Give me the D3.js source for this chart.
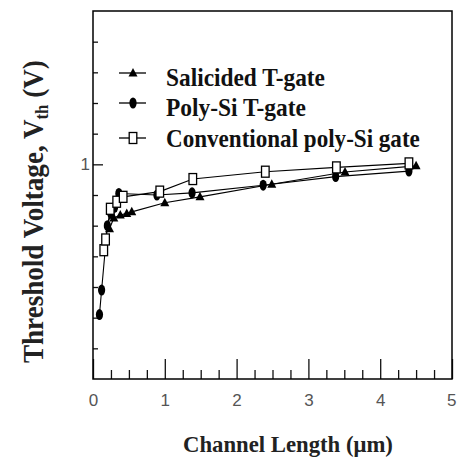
<!DOCTYPE html>
<html>
<head>
<meta charset="utf-8">
<script src="https://cdn.jsdelivr.net/npm/d3@7"></script>
<style>
  body { margin: 0; background: #fff; }
  svg { display: block; }
</style>
</head>
<body>
<div id="chart"></div>
<script>
// Data: channel length (um) and threshold voltage (V)
var salicidedL   = [0.23, 0.29, 0.38, 0.47, 0.54, 1.0, 1.49, 2.49, 3.51, 4.5];
var salicidedVth = [0.79, 0.825, 0.835, 0.84, 0.845, 0.875, 0.894, 0.935, 0.975, 0.995];

var polyL   = [0.09, 0.12, 0.2, 0.25, 0.3, 0.36, 0.89, 1.38, 2.37, 3.38, 4.4];
var polyVth = [0.51, 0.59, 0.8, 0.84, 0.86, 0.905, 0.9, 0.907, 0.932, 0.96, 0.978];

var convL   = [0.15, 0.175, 0.24, 0.33, 0.42, 0.93, 1.39, 2.4, 3.39, 4.4];
var convVth = [0.72, 0.755, 0.855, 0.878, 0.894, 0.911, 0.952, 0.976, 0.99, 1.003];

var seriesNames = ["Salicided T-gate", "Poly-Si T-gate", "Conventional poly-Si gate"];
var xTicks = [0, 1, 2, 3, 4, 5];
var yTicks = [1];

// Set the dimensions and margins
var margin = { top: 11, right: 5, bottom: 79, left: 93 };
var w = 457, h = 458;
var width = w - margin.left - margin.right;
var height = h - margin.top - margin.bottom;

var svg = d3.select("#chart")
  .append("svg")
    .attr("width", w)
    .attr("height", h);

var g = svg.append("g")
  .attr("transform", "translate(" + margin.left + "," + margin.top + ")");

// Scales
var xScale = d3.scaleLinear().domain([0, 5]).range([0, width]);
var yScale = d3.scaleLinear().domain([0.3, 1.5]).range([height, 0]);

// factor to stretch or squeeze a text element to a given width
function fitText(sel, target) {
  var len = sel.node().getComputedTextLength();
  return target / len;
}

/* ---------------- axes (ticks pointing inward) ---------------- */
var xMajor = d3.axisBottom(xScale).tickValues(xTicks).tickSize(-20).tickSizeOuter(0).tickPadding(15)
  .tickFormat(d3.format("d"));
var xMinor = d3.axisBottom(xScale)
  .tickValues(d3.range(0.25, 5, 0.25).filter(function(d) { return Math.abs(d - Math.round(d)) > 0.01; }))
  .tickSize(-9).tickSizeOuter(0).tickFormat("");
var yMajor = d3.axisLeft(yScale).tickValues(yTicks).tickSize(-10).tickSizeOuter(0).tickPadding(3)
  .tickFormat(d3.format("d"));
var yMinor = d3.axisLeft(yScale)
  .tickValues([0.4, 0.5, 0.6, 0.7, 0.8, 0.9, 1.1, 1.2, 1.3, 1.4])
  .tickSize(-5).tickSizeOuter(0).tickFormat("");

[
  g.append("g").attr("class", "x-major").attr("transform", "translate(0," + height + ")").call(xMajor),
  g.append("g").attr("transform", "translate(0," + height + ")").call(xMinor),
  g.append("g").call(yMajor),
  g.append("g").call(yMinor)
].forEach(function(ax) {
  ax.select(".domain").remove();
  ax.selectAll("line").attr("stroke", "#111").attr("stroke-width", 1.3);
  ax.selectAll("text")
    .attr("font-family", "'Liberation Sans', Arial, sans-serif")
    .attr("font-size", 17)
    .attr("fill", "#555");
});
// the last label sits on the picture's right edge: nudge it in
g.select(".x-major").selectAll("text")
  .filter(function(d) { return d === 5; })
  .attr("text-anchor", "end")
  .attr("x", 4);

// frame
g.append("rect")
  .attr("x", 0).attr("y", 0)
  .attr("width", width).attr("height", height)
  .attr("fill", "none")
  .attr("stroke", "#000")
  .attr("stroke-width", 1.5);

/* ---------------- series ---------------- */
function zip(xs, ys) {
  return xs.map(function(x, i) { return { x: x, y: ys[i] }; });
}
var series = [
  { name: seriesNames[0], marker: "triangle", data: zip(salicidedL, salicidedVth) },
  { name: seriesNames[1], marker: "circle", data: zip(polyL, polyVth) },
  { name: seriesNames[2], marker: "square", data: zip(convL, convVth) }
];

var line = d3.line()
  .x(function(d) { return xScale(d.x); })
  .y(function(d) { return yScale(d.y); });

function drawMarker(sel, type) {
  if (type === "triangle") {
    sel.append("path")
      .attr("d", "M0,-5L4.5,3.5L-4.5,3.5Z")
      .attr("fill", "#000");
  } else if (type === "circle") {
    sel.append("ellipse")
      .attr("rx", 3.6).attr("ry", 5.5)
      .attr("fill", "#000");
  } else {
    sel.append("rect")
      .attr("x", -3.8).attr("y", -5.5)
      .attr("width", 7.6).attr("height", 11)
      .attr("fill", "#fff")
      .attr("stroke", "#000")
      .attr("stroke-width", 1.3);
  }
}

series.forEach(function(s) {
  g.append("path")
    .datum(s.data)
    .attr("d", line)
    .attr("fill", "none")
    .attr("stroke", "#000")
    .attr("stroke-width", 1.1);
});

// squares last so they sit on top like in the picture
series.forEach(function(s) {
  g.selectAll(null).data(s.data).enter().append("g")
    .attr("transform", function(d) { return "translate(" + xScale(d.x) + "," + yScale(d.y) + ")"; })
    .each(function() { drawMarker(d3.select(this), s.marker); });
});

/* ---------------- legend ---------------- */
var legendRows = [
  { lineY: 73, textY: 86, width: 159 },
  { lineY: 103, textY: 116, width: 140 },
  { lineY: 138, textY: 147, width: 254 }
];
series.forEach(function(s, i) {
  var r = legendRows[i];
  svg.append("line")
    .attr("x1", 119).attr("x2", 146)
    .attr("y1", r.lineY).attr("y2", r.lineY)
    .attr("stroke", "#000").attr("stroke-width", 1.3);
  var m = svg.append("g").attr("transform", "translate(133," + r.lineY + ")");
  drawMarker(m, s.marker);
  var t = svg.append("text")
    .attr("font-family", "'Liberation Serif', 'Times New Roman', serif")
    .attr("font-weight", "bold")
    .attr("font-size", 25)
    .attr("fill", "#111")
    .text(s.name);
  var k = fitText(t, r.width);
  t.attr("transform", "translate(166," + r.textY + ") scale(" + k + ",1)");
});

/* ---------------- axis titles ---------------- */
var xTitle = svg.append("text")
  .attr("font-family", "'Liberation Serif', 'Times New Roman', serif")
  .attr("font-weight", "bold")
  .attr("font-size", 23)
  .attr("fill", "#222")
  .text("Channel Length (\u03bcm)");
var kx = fitText(xTitle, 210);
xTitle.attr("transform", "translate(183,452) scale(" + kx + ",1)");

var yTitle = svg.append("text")
  .attr("font-family", "'Liberation Serif', 'Times New Roman', serif")
  .attr("font-weight", "bold")
  .attr("font-size", 29)
  .attr("fill", "#222");
yTitle.append("tspan").text("Threshold Voltage, V");
yTitle.append("tspan").attr("font-size", 18).attr("dy", 5).text("th");
yTitle.append("tspan").attr("dy", -5).text(" (V)");
var ky = fitText(yTitle, 303);
yTitle.attr("transform", "translate(43,363) rotate(-90) scale(" + ky + ",1)");
</script>
</body>
</html>
